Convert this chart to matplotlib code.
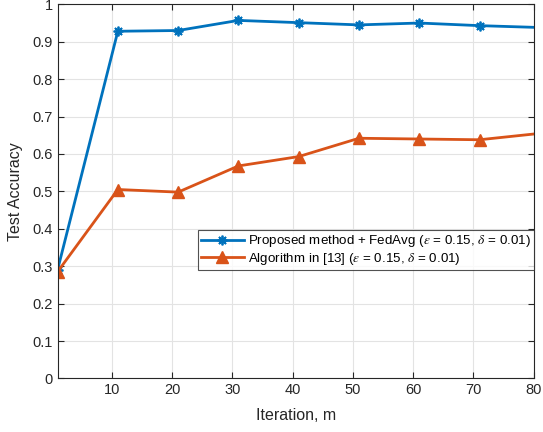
import matplotlib
matplotlib.use('Agg')
from matplotlib import pyplot as plt

iterations = [1, 11, 21, 31, 41, 51, 61, 71, 81]
acc_proposed = [0.290, 0.928, 0.930, 0.957, 0.951, 0.945, 0.950, 0.943, 0.938]
acc_baseline = [0.285, 0.505, 0.498, 0.568, 0.593, 0.642, 0.640, 0.638, 0.655]
labels = [r'Proposed method + FedAvg ($\epsilon$ = 0.15, $\delta$ = 0.01)',
          r'Algorithm in [13] ($\epsilon$ = 0.15, $\delta$ = 0.01)']

plt.rcParams['font.family'] = ['Liberation Sans', 'DejaVu Sans']
plt.rcParams['mathtext.fontset'] = 'stix'

fig = plt.figure(figsize=(5.43, 4.32), dpi=100)
ax = fig.add_axes([0.106, 0.124, 0.877, 0.866])

# asterisk marker like matlab '*'
ax.plot(iterations, acc_proposed, color='#0072BD', linewidth=2, marker=(8, 2, 0),
        markersize=7, markeredgewidth=1.3, label=labels[0])
ax.plot(iterations, acc_baseline, color='#D95319', linewidth=2, marker='^',
        markersize=8, markerfacecolor='#D95319', label=labels[1])

ax.set_xlim(1, 80)
ax.set_ylim(0, 1)
ax.set_xticks(range(10, 81, 10))
ax.set_yticks([i / 10 for i in range(11)])
ax.set_yticklabels(['0', '0.1', '0.2', '0.3', '0.4', '0.5', '0.6', '0.7', '0.8', '0.9', '1'])
ax.grid(True, color='#e3e3e3', linewidth=0.8)
ax.set_axisbelow(True)
ax.tick_params(direction='in', top=True, right=True, labelsize=10.5,
               colors='#262626', length=4)
for s in ax.spines.values():
    s.set_color('#262626')
    s.set_linewidth(0.8)
ax.set_xlabel('Iteration, m', fontsize=11.5, color='#262626', labelpad=8)
ax.set_ylabel('Test Accuracy', fontsize=11.5, color='#262626', labelpad=7)

leg = ax.legend(loc='upper right', bbox_to_anchor=(1.0, 0.397), fontsize=9.6,
                frameon=True, fancybox=False, handlelength=3.2, borderpad=0.25,
                labelspacing=0.1, handletextpad=0.3, borderaxespad=0)
leg.get_frame().set_edgecolor('#262626')
leg.get_frame().set_linewidth(0.8)

plt.savefig('out.png', dpi=100)
